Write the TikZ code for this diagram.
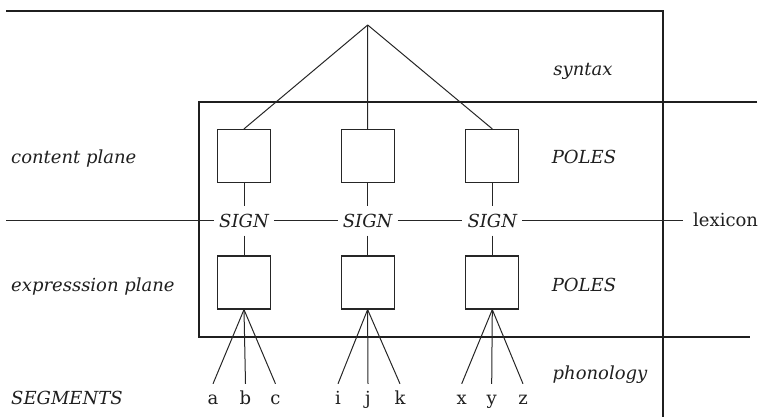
\documentclass[tikz,border=0pt]{standalone}
\usepackage{fontspec}
\setmainfont{DejaVu Serif}
\begin{document}
\begin{tikzpicture}[x=1pt,y=-1pt,
  frame/.style={line width=1.7pt,color=black!88},
  conn/.style={line width=1pt,color=black!85},
  pole/.style={draw=black!85,line width=1.2pt,minimum width=53pt,minimum height=53pt,inner sep=0pt},
  sign/.style={font=\fontsize{18}{21}\selectfont\itshape,text height=13pt,text depth=0pt,inner ysep=8pt,inner xsep=5pt,text=black!88},
  seg/.style={font=\fontsize{18}{21}\selectfont,text height=13pt,text depth=0pt,inner ysep=7pt,inner xsep=2pt,anchor=base,text=black!88},
  lbl/.style={font=\fontsize{18}{21}\selectfont\itshape,inner sep=0pt,text=black!88},
  every node/.append style={}]
\useasboundingbox (0,0) rectangle (761,417);
% frames
\draw[frame] (6,10.7) -- (662.7,10.7) -- (662.7,417);
\draw[frame] (757,102.3) -- (199.3,102.3) -- (199.3,337.3) -- (750,337.3);
% poles
\node[pole] (p1) at (244,156) {};
\node[pole] (p2) at (367.6,156) {};
\node[pole] (p3) at (492.3,156) {};
\node[pole] (q1) at (244,282.5) {};
\node[pole] (q2) at (367.6,282.5) {};
\node[pole] (q3) at (492.3,282.5) {};
% signs
\node[sign] (s1) at (244,221) {SIGN};
\node[sign] (s2) at (367.6,221) {SIGN};
\node[sign] (s3) at (492.3,221) {SIGN};
\node[font=\fontsize{18}{21}\selectfont,inner sep=0pt,anchor=base west,text=black!88] (lex) at (693,226.7) {lexicon};
\coordinate (L) at (6,221);
\coordinate (apex) at (367.7,25);
% segments
\node[seg] (a) at (213,404) {a};
\node[seg] (b) at (245.5,404) {b};
\node[seg] (c) at (275.5,404) {c};
\node[seg] (i) at (338,404) {i};
\node[seg] (j) at (368,404) {j};
\node[seg] (k) at (400,404) {k};
\node[seg] (x) at (461.7,404) {x};
\node[seg] (y) at (491.7,404) {y};
\node[seg] (z) at (523,404) {z};
% labels
\node[lbl,anchor=base] (syn) at (583,76) {syntax};
\node[lbl,anchor=base] (po1) at (584,164) {POLES};
\node[lbl,anchor=base] (po2) at (584,291) {POLES};
\node[lbl,anchor=base] (pho) at (600,379) {phonology};
\node[lbl,anchor=base west] (cp) at (11,164) {content plane};
\node[lbl,anchor=base west] (ep) at (11,291) {expresssion plane};
\node[lbl,anchor=base west] (seglbl) at (11,404) {SEGMENTS};
% connectors
\draw[conn] (apex) -- (p1.north);
\draw[conn] (apex) -- (p2.north);
\draw[conn] (apex) -- (p3.north);
\foreach \n in {1,2,3}{
  \draw[conn] (p\n.south) -- (s\n.north);
  \draw[conn] (s\n.south) -- (q\n.north);
}
\draw[conn] (L) -- (s1.west);
\draw[conn] (s1) -- (s2);
\draw[conn] (s2) -- (s3);
\draw[conn] (s3.east) -- ([xshift=-10pt]s3.east -| lex.west);
\foreach \m in {a,b,c}{\draw[conn] (q1.south) -- (\m.north);}
\foreach \m in {i,j,k}{\draw[conn] (q2.south) -- (\m.north);}
\foreach \m in {x,y,z}{\draw[conn] (q3.south) -- (\m.north);}
\end{tikzpicture}
\end{document}
